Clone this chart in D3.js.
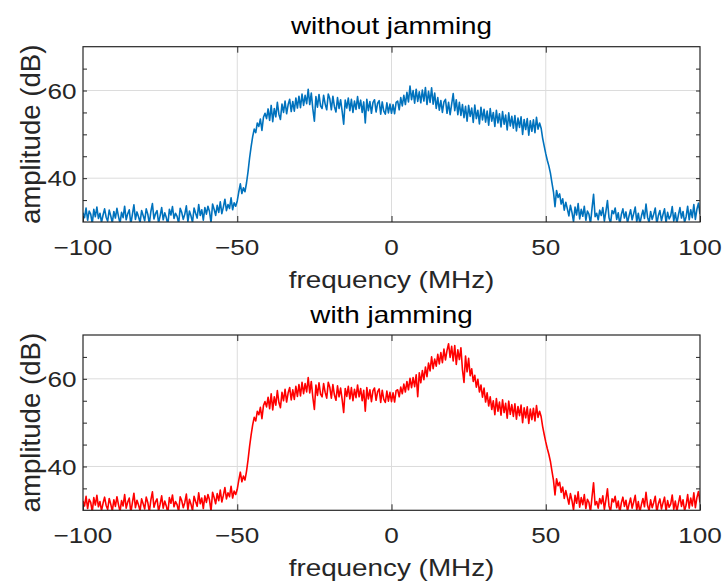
<!DOCTYPE html>
<html>
<head>
<meta charset="utf-8">
<script src="https://cdn.jsdelivr.net/npm/d3@7"></script>
<style>
  html, body { margin: 0; padding: 0; background: #ffffff; }
  svg { display: block; font-family: "Liberation Sans", Arial, Helvetica, sans-serif; }
</style>
</head>
<body>
<svg id="chart" width="723" height="582"></svg>
<script>
// ---------------- DATA ----------------
// frequency grid: -100 .. 100 MHz, 0.5 MHz step
const freqMin = -100, freqMax = 100, freqStep = 0.5;
const xTickValues = [-100, -50, 0, 50, 100];
const xGridValues = [-50, 0, 50];
const yTickValues = [40, 60];
const yMinorTickValues = [35, 40, 45, 50, 55, 60, 65];
const yDomain = [30, 70];
const titles = ["without jamming", "with jamming"];
const xLabel = "frequency (MHz)";
const yLabel = "amplitude (dB)";

// amplitude (dB) without jamming (401 samples)
const ampWithout = [
  // -100 .. -90.5
  32.1, 31.0, 33.2, 30.4, 32.5, 31.8, 29.6, 32.9, 31.2, 33.4, 30.8, 32.0, 29.9, 31.6, 33.0, 31.1, 30.2, 32.7, 31.4, 29.8,
  // -90 .. -80.5
  32.4, 30.9, 33.1, 31.3, 29.7, 32.2, 31.0, 33.6, 30.5, 31.9, 32.8, 29.5, 31.7, 33.9, 30.6, 32.3, 31.2, 29.9, 32.6, 31.5,
  // -80 .. -70.5
  30.3, 33.0, 31.8, 29.6, 32.4, 34.2, 30.7, 31.9, 32.6, 29.8, 31.4, 33.3, 30.5, 32.1, 31.0, 29.4, 32.9, 31.6, 33.5, 30.8,
  // -70 .. -60.5
  32.0, 31.3, 29.7, 33.1, 32.2, 30.6, 31.8, 33.7, 30.1, 32.5, 31.4, 29.9, 33.2, 32.0, 30.9, 34.0, 31.5, 32.8, 30.4, 33.3,
  // -60 .. -50.5
  31.8, 33.6, 32.4, 29.8, 34.1, 32.9, 31.5, 33.8, 32.2, 34.6, 31.9, 33.4, 35.2, 32.6, 34.0, 33.1, 35.5, 32.8, 34.4, 33.6,
  // -50 .. -40.5
  34.8, 36.9, 38.7, 36.5, 37.8, 36.9, 38.9, 41.5, 44.6, 47.2, 49.5, 51.2, 50.4, 52.6, 51.8, 53.5, 50.9, 53.9, 54.8, 53.6,
  // -40 .. -30.5
  55.8, 53.2, 56.6, 52.9, 55.9, 54.0, 57.3, 54.6, 53.4, 56.9, 55.0, 57.6, 54.7, 56.8, 58.0, 55.2, 57.5, 55.3, 58.3, 56.0,
  // -30 .. -20.5
  58.7, 56.1, 59.2, 56.6, 58.9, 57.0, 60.3, 56.8, 59.4, 55.8, 53.0, 58.6, 56.2, 59.1, 56.5, 55.9, 58.9, 56.9, 55.6, 59.2,
  // -20 .. -10.5
  58.1, 55.6, 58.7, 56.3, 55.1, 58.4, 55.9, 57.9, 55.3, 52.3, 57.8, 56.0, 58.3, 55.4, 58.0, 55.0, 57.6, 55.7, 58.6, 55.9,
  // -10 .. -0.5
  57.8, 55.0, 57.4, 52.6, 58.0, 55.4, 57.5, 54.8, 57.3, 57.9, 55.1, 57.1, 57.7, 54.6, 57.4, 55.3, 54.6, 57.2, 54.9, 56.9,
  // 0 .. 9.5
  54.8, 56.8, 54.7, 57.3, 57.6, 55.6, 58.4, 56.5, 58.9, 56.8, 59.6, 57.4, 61.0, 57.9, 60.0, 57.1, 60.3, 57.5, 59.7, 57.2,
  // 10 .. 19.5
  60.1, 57.6, 60.7, 56.8, 59.8, 57.3, 60.6, 56.9, 59.4, 55.9, 58.4, 55.5, 57.7, 55.0, 57.4, 58.0, 54.8, 57.3, 54.5, 56.9,
  // 20 .. 29.5
  59.3, 55.4, 57.9, 54.5, 57.3, 54.3, 56.8, 53.8, 56.4, 53.0, 56.6, 54.1, 56.0, 52.7, 56.7, 53.6, 55.5, 52.4, 56.2, 53.3,
  // 30 .. 39.5
  55.7, 52.8, 55.3, 52.1, 55.9, 53.0, 55.0, 51.8, 55.5, 52.6, 54.7, 51.7, 55.2, 52.3, 54.4, 51.0, 54.9, 51.9, 54.1, 51.4,
  // 40 .. 47.5
  54.3, 50.8, 53.7, 51.6, 54.0, 50.0, 53.4, 51.1, 53.6, 49.8, 53.1, 50.7, 53.3, 50.4, 53.9, 51.2,
  // 48 .. 57.5
  52.6, 51.4, 49.1, 47.3, 45.6, 44.1, 42.8, 41.2, 39.0, 36.9, 33.5, 37.2, 35.6, 36.4, 34.1, 35.3, 32.7, 34.5, 33.0, 31.4,
  // 58 .. 67.5
  33.8, 32.2, 30.1, 33.4, 31.6, 34.2, 30.7, 32.9, 31.3, 33.6, 30.4, 32.5, 31.8, 29.6, 33.1, 36.3, 31.2, 32.0, 30.5, 32.7,
  // 68 .. 77.5
  31.5, 33.3, 30.2, 32.4, 34.9, 31.0, 29.7, 32.6, 31.9, 33.2, 30.6, 32.1, 29.4, 31.7, 33.0, 30.9, 32.3, 29.8, 31.4, 32.8,
  // 78 .. 87.5
  30.5, 31.9, 33.4, 30.1, 32.0, 29.6, 31.3, 32.7, 30.8, 34.1, 31.1, 29.9, 32.4, 30.6, 31.8, 33.2, 29.5, 31.5, 32.6, 30.3,
  // 88 .. 100
  31.7, 33.0, 29.8, 32.2, 30.7, 31.4, 33.5, 30.2, 32.1, 29.7, 31.6, 33.3, 30.9, 32.4, 29.9, 31.2, 33.6, 30.5, 32.8, 31.0,
  34.0, 30.6, 32.9, 34.3, 31.8
];

// with jamming: same spectrum, jammer bump between 2 and 32 MHz
const jamStartFreq = 2;
const jamSegment = [
  57.5, 55.9, 58.1, 56.6, 58.8, 57.0, 59.4, 57.5, 60.1, 58.0,
  60.3, 58.2, 60.9, 55.9, 61.4, 59.1, 61.9, 59.8, 62.7, 60.5,
  63.6, 61.8, 65.0, 62.3, 64.5, 62.9, 65.6, 63.4, 66.0, 63.7,
  66.8, 64.3, 66.5, 68.0, 64.9, 67.4, 64.1, 67.6, 63.3, 66.6,
  64.4, 67.1, 62.1, 59.2, 65.2, 61.6, 64.7, 60.7, 62.3, 59.4,
  60.8, 58.1, 59.9, 57.0, 58.6, 55.8, 57.9, 54.7, 56.8, 53.8,
  55.9
];

// ---------------- BUILD ----------------
const freqs = d3.range(ampWithout.length).map(i => freqMin + i * freqStep);
const ampWith = ampWithout.slice();
const jamStartIdx = Math.round((jamStartFreq - freqMin) / freqStep);
jamSegment.forEach((v, k) => { ampWith[jamStartIdx + k] = v; });

const series = [
  { title: titles[0], values: ampWithout, color: "#0072BD" },
  { title: titles[1], values: ampWith, color: "#FF0000" }
];

// ---------------- LAYOUT ----------------
const svg = d3.select("#chart");
const left = 83, right = 700;
const panelTop = [46.7, 335];
const panelH = 175.3;
const axisColor = "#262626";
const textColor = "#262626";
const SX = 1.16; // horizontal glyph stretch of reference text

function sText(g, x, y, str, size, anchor, opts = {}) {
  const rot = opts.rotate || 0;
  const sxv = opts.sx || SX, syv = opts.sy || 1;
  return g.append("text")
    .attr("transform", `translate(${x},${y}) rotate(${rot}) scale(${sxv},${syv})`)
    .attr("text-anchor", anchor)
    .attr("dy", opts.dy || 0)
    .style("font-size", size + "px")
    .style("fill", opts.fill || textColor)
    .text(str);
}

const x = d3.scaleLinear().domain([freqMin, freqMax]).range([left, right]);

series.forEach((s, p) => {
  const top = panelTop[p], bottom = top + panelH;
  const y = d3.scaleLinear().domain(yDomain).range([bottom, top]);
  const g = svg.append("g");

  const clipId = "clip" + p;
  svg.append("defs").append("clipPath").attr("id", clipId)
    .append("rect").attr("x", left).attr("y", top).attr("width", right - left).attr("height", panelH);

  // grid
  g.append("g").selectAll("line").data(xGridValues).join("line")
    .attr("x1", d => x(d)).attr("x2", d => x(d)).attr("y1", top).attr("y2", bottom)
    .attr("stroke", "#dcdcdc").attr("stroke-width", 1);
  g.append("g").selectAll("line").data(yTickValues).join("line")
    .attr("x1", left).attr("x2", right).attr("y1", d => y(d)).attr("y2", d => y(d))
    .attr("stroke", "#dcdcdc").attr("stroke-width", 1);

  // line
  const line = d3.line().x((d, i) => x(freqs[i])).y(d => y(d));
  g.append("path").datum(s.values)
    .attr("clip-path", `url(#${clipId})`)
    .attr("fill", "none").attr("stroke", s.color).attr("stroke-width", 1.6)
    .attr("stroke-linejoin", "round")
    .attr("d", line);

  // axes (ticks inside)
  const xb = g.append("g").attr("transform", `translate(0,${bottom})`)
    .call(d3.axisBottom(x).tickValues(xTickValues).tickSize(-6).tickFormat(""));
  const xt = g.append("g").attr("transform", `translate(0,${top})`)
    .call(d3.axisTop(x).tickValues(xGridValues).tickSize(-6).tickFormat(""));
  const yl = g.append("g").attr("transform", `translate(${left},0)`)
    .call(d3.axisLeft(y).tickValues(yMinorTickValues).tickSize(-4).tickFormat(""));
  const yr = g.append("g").attr("transform", `translate(${right},0)`)
    .call(d3.axisRight(y).tickValues(yMinorTickValues).tickSize(-4).tickFormat(""));
  [xb, xt, yl, yr].forEach(a => {
    a.selectAll(".domain").remove();
    a.selectAll(".tick line").attr("stroke", axisColor).attr("stroke-width", 1);
    a.selectAll(".tick text").remove();
  });

  // box
  g.append("rect").attr("x", left).attr("y", top).attr("width", right - left).attr("height", panelH)
    .attr("fill", "none").attr("stroke", axisColor).attr("stroke-width", 1.2);

  // tick labels
  const fmt = d3.format("");
  xTickValues.forEach(v => sText(g, x(v), bottom + 32.5, fmt(v), 22.5, "middle"));
  yTickValues.forEach(v => sText(g, left - 6.5, y(v), fmt(v), 22.5, "end", { dy: "0.36em" }));

  // labels
  sText(g, (left + right) / 2, top - 12.5, s.title, 24, "middle", { fill: "#000" });
  sText(g, (left + right) / 2, bottom + 66, xLabel, 24, "middle");
  sText(g, 40, (top + bottom) / 2, yLabel, 24, "middle", { rotate: -90, sx: 1.15, sy: 1.16 });
});
</script>
</body>
</html>
